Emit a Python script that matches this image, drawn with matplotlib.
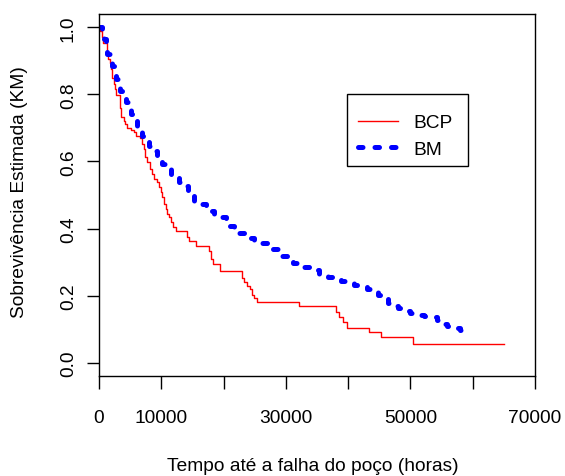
import numpy as np
import matplotlib.pyplot as plt
from matplotlib.patches import Rectangle

plt.rcParams['font.family'] = ['Liberation Sans', 'DejaVu Sans']

# Kaplan-Meier: tempo (horas) e sobrevivencia estimada
bcp_t = [0, 160, 530, 690, 1340, 1500, 1770, 1980, 2140, 2410, 2580, 2690,
         3300, 3590, 4020, 4180, 4550, 5150, 5630, 6000, 6550, 6870, 7240,
         7400, 7770, 8160, 8580, 8850, 9380, 9660, 9930, 10190, 10460, 10730,
         10990, 11260, 11540, 11910, 12340, 14080, 14400, 15560, 17700, 17980,
         18230, 19390, 22960, 23330, 23820, 24250, 24570, 24860, 25310, 32070,
         37980, 38460, 39150, 39800, 43340, 45330, 50420, 65000]
bcp_s = [1.0, 0.989, 0.970, 0.954, 0.925, 0.907, 0.895, 0.875, 0.850, 0.830,
         0.815, 0.798, 0.759, 0.732, 0.721, 0.713, 0.701, 0.693, 0.688, 0.677,
         0.669, 0.652, 0.637, 0.612, 0.597, 0.579, 0.563, 0.548, 0.538, 0.523,
         0.510, 0.493, 0.473, 0.458, 0.443, 0.434, 0.419, 0.405, 0.394, 0.375,
         0.364, 0.349, 0.334, 0.310, 0.295, 0.274, 0.253, 0.240, 0.230, 0.220,
         0.202, 0.193, 0.181, 0.169, 0.151, 0.136, 0.121, 0.104, 0.091, 0.076,
         0.054, 0.054]

bm_t = [0, 480, 800, 1050, 1340, 1770, 2140, 2410, 2690, 3060, 3380, 3860,
        4300, 4670, 5100, 5580, 6070, 6520, 6970, 7560, 8050, 8690, 9380,
        10190, 10780, 11540, 12230, 12870, 13520, 14210, 15290, 16090, 17170,
        17860, 18510, 19310, 20390, 21080, 21720, 22530, 23330, 24140, 24940,
        25910, 27040, 27840, 28690, 29450, 30300, 31220, 32180, 32990, 33950,
        35400, 36690, 37820, 38780, 39910, 40870, 41840, 42970, 43980, 44740,
        45590, 46350, 47200, 47950, 48810, 49890, 50960, 52140, 53380, 54230,
        54990, 55840, 56850, 57930, 58700, 59500]
bm_s = [1.0, 0.979, 0.964, 0.943, 0.920, 0.905, 0.885, 0.860, 0.845, 0.827,
        0.810, 0.792, 0.776, 0.756, 0.741, 0.723, 0.706, 0.693, 0.676, 0.662,
        0.647, 0.632, 0.617, 0.592, 0.577, 0.563, 0.551, 0.538, 0.527, 0.510,
        0.483, 0.473, 0.463, 0.452, 0.443, 0.434, 0.424, 0.408, 0.394, 0.387,
        0.379, 0.371, 0.364, 0.356, 0.349, 0.339, 0.329, 0.318, 0.304, 0.298,
        0.292, 0.286, 0.277, 0.260, 0.254, 0.249, 0.243, 0.237, 0.231, 0.225,
        0.219, 0.212, 0.202, 0.193, 0.179, 0.169, 0.162, 0.155, 0.149, 0.143,
        0.140, 0.136, 0.126, 0.116, 0.109, 0.102, 0.097, 0.091, 0.091]

xticks = [0, 10000, 20000, 30000, 40000, 50000, 60000, 70000]
xticklabels = ['0', '10000', '', '30000', '', '50000', '', '70000']
yticks = [0.0, 0.2, 0.4, 0.6, 0.8, 1.0]

fs = 13.8
fig = plt.figure(figsize=(5.65, 4.77), dpi=100)
ax = fig.add_axes([99 / 565, 1 - 377 / 477, 436 / 565, 362 / 477])

ax.step(bcp_t, bcp_s, where='post', color='red', lw=1.0, label='BCP')
ax.step(bm_t, bm_s, where='post', color='blue', lw=3.6,
        dashes=(0.9, 2.4), dash_capstyle='round', label='BM')

ax.set_xlim(0, 70000)
ax.set_ylim(-0.04, 1.04)
ax.set_xticks(xticks)
ax.set_xticklabels(xticklabels)
ax.set_yticks(yticks)
ax.set_yticklabels(['%.1f' % v for v in yticks])
ax.tick_params(direction='out', length=9, width=1, labelsize=fs)
ax.tick_params(axis='x', pad=15)
ax.tick_params(axis='y', pad=7, labelrotation=90)
for lab in ax.get_yticklabels():
    lab.set_va('center')
for sp in ax.spines.values():
    sp.set_linewidth(1)

ax.set_xlabel('Tempo até a falha do poço (horas)', fontsize=fs, va='center')
ax.xaxis.set_label_coords(0.49, -(467 - 377) / 362)
ax.set_ylabel('Sobrevivência Estimada (KM)', fontsize=fs, va='center')
ax.yaxis.set_label_coords((20 - 99) / 436, 0.51)

# legend box drawn separately (R style, uneven padding)
ax.add_patch(Rectangle(((347 - 99) / 436, (377 - 167) / 362), 121 / 436, 72 / 362,
                       transform=ax.transAxes, fill=True, facecolor='white',
                       edgecolor='black', lw=1, zorder=4))
leg = ax.legend(loc='center left', bbox_to_anchor=((358 - 99) / 436, (377 - 137) / 362),
                fontsize=fs, frameon=False, borderaxespad=0, borderpad=0,
                handlelength=2.08, handletextpad=0.8, labelspacing=0.47)
leg.set_zorder(5)

fig.savefig('out.png', dpi=100)
